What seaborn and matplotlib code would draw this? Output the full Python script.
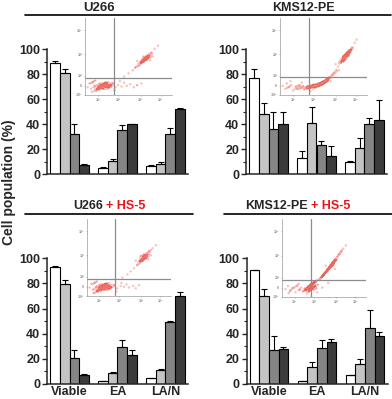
# Cell population bar charts with flow cytometry insets
import numpy as np
import pandas as pd
import matplotlib
matplotlib.use("Agg")
import matplotlib.pyplot as plt
from matplotlib.lines import Line2D
import seaborn as sns

sns.set_style("ticks")
plt.rcParams["font.family"] = ["Liberation Sans", "DejaVu Sans"]
plt.rcParams["font.weight"] = "bold"

# ---- data ----
groups = ["Viable", "EA", "LA/N"]
treatments = ["c1", "c2", "c3", "c4"]
bar_colors = ["#ffffff", "#c4c4c4", "#858585", "#3c3c3c"]

# rows = groups, cols = treatments
u266_mean = [[88.6, 81.0, 32.0, 7.7], [5.3, 10.4, 35.4, 40.0], [6.6, 8.0, 32.0, 52.0]]
u266_err = [[1.8, 2.8, 8.0, 0.6], [0.5, 1.5, 4.0, 0.5], [1.0, 1.5, 4.7, 1.0]]
kms_mean = [[77.0, 48.4, 36.4, 40.0], [12.8, 40.7, 23.1, 14.6], [9.6, 20.7, 40.2, 43.4]]
kms_err = [[7.0, 8.6, 13.6, 10.0], [6.1, 12.8, 3.8, 8.0], [1.0, 8.6, 4.5, 15.6]]
u266_hs5_mean = [[93.3, 79.7, 21.0, 7.4], [2.4, 9.0, 29.7, 23.0], [4.5, 11.4, 49.0, 69.8]]
u266_hs5_err = [[0.3, 2.8, 6.0, 0.8], [0.3, 0.4, 5.3, 4.0], [0.4, 0.4, 1.0, 3.2]]
kms_hs5_mean = [[90.7, 70.3, 27.0, 27.8], [2.0, 13.8, 28.4, 33.7], [6.9, 16.2, 44.6, 37.9]]
kms_hs5_err = [[0.2, 5.0, 11.5, 1.9], [0.3, 3.7, 6.6, 1.8], [0.3, 3.7, 14.3, 3.7]]

# flow cytometry dots, in fractions of the inset box (x, y)
u266_dots = [(0.15, 0.12), (0.18, 0.10), (0.20, 0.13), (0.22, 0.11), (0.24, 0.14), (0.26, 0.10),
             (0.21, 0.08), (0.17, 0.15), (0.25, 0.12), (0.28, 0.13), (0.19, 0.12), (0.23, 0.16),
             (0.27, 0.09), (0.16, 0.09), (0.30, 0.11), (0.22, 0.13), (0.03, 0.10), (0.05, 0.15),
             (0.07, 0.08), (0.09, 0.17), (0.11, 0.12), (0.13, 0.06), (0.32, 0.15), (0.35, 0.10),
             (0.38, 0.13), (0.42, 0.11), (0.45, 0.16), (0.48, 0.12), (0.52, 0.14), (0.56, 0.10),
             (0.60, 0.13), (0.65, 0.15), (0.12, 0.19), (0.34, 0.06), (0.40, 0.18), (0.08, 0.04),
             (0.45, 0.24), (0.50, 0.28), (0.55, 0.32), (0.58, 0.36), (0.62, 0.38), (0.64, 0.42),
             (0.66, 0.43), (0.68, 0.45), (0.69, 0.46), (0.70, 0.47), (0.72, 0.49), (0.71, 0.50),
             (0.74, 0.52), (0.76, 0.55), (0.80, 0.60), (0.84, 0.64), (0.60, 0.44), (0.75, 0.45),
             (0.67, 0.50), (0.78, 0.50)]
kms_dots = [(0.03, 0.12), (0.06, 0.08), (0.08, 0.15), (0.10, 0.10), (0.13, 0.13), (0.15, 0.06),
            (0.18, 0.11), (0.20, 0.08), (0.22, 0.12), (0.24, 0.09), (0.26, 0.11), (0.28, 0.07),
            (0.30, 0.10), (0.32, 0.12), (0.34, 0.09), (0.36, 0.11), (0.38, 0.13), (0.40, 0.10),
            (0.42, 0.14), (0.44, 0.12), (0.46, 0.15), (0.48, 0.13), (0.50, 0.17), (0.52, 0.16),
            (0.54, 0.20), (0.57, 0.22), (0.60, 0.26), (0.62, 0.29), (0.65, 0.33), (0.67, 0.37),
            (0.70, 0.42), (0.72, 0.45), (0.73, 0.48), (0.75, 0.50), (0.76, 0.52), (0.77, 0.53),
            (0.78, 0.55), (0.80, 0.57), (0.79, 0.50), (0.74, 0.44), (0.82, 0.60), (0.83, 0.62),
            (0.86, 0.68), (0.88, 0.72), (0.12, 0.18), (0.25, 0.16), (0.35, 0.05), (0.58, 0.18),
            (0.68, 0.32), (0.64, 0.40)]
u266_hs5_dots = [(0.14, 0.12), (0.17, 0.10), (0.19, 0.13), (0.21, 0.11), (0.23, 0.14), (0.25, 0.10),
                 (0.20, 0.08), (0.16, 0.15), (0.24, 0.12), (0.27, 0.13), (0.18, 0.12), (0.22, 0.16),
                 (0.26, 0.09), (0.15, 0.08), (0.29, 0.11), (0.21, 0.13), (0.03, 0.11), (0.05, 0.16),
                 (0.07, 0.08), (0.09, 0.17), (0.11, 0.12), (0.12, 0.06), (0.33, 0.14), (0.36, 0.10),
                 (0.40, 0.13), (0.44, 0.12), (0.47, 0.15), (0.50, 0.11), (0.55, 0.13), (0.58, 0.10),
                 (0.62, 0.14), (0.12, 0.19), (0.35, 0.06), (0.41, 0.17), (0.08, 0.04),
                 (0.42, 0.24), (0.48, 0.28), (0.52, 0.32), (0.56, 0.36), (0.60, 0.40), (0.63, 0.44),
                 (0.65, 0.46), (0.66, 0.48), (0.68, 0.50), (0.69, 0.49), (0.70, 0.52), (0.67, 0.53),
                 (0.72, 0.55), (0.74, 0.58), (0.78, 0.62), (0.82, 0.66), (0.58, 0.46), (0.73, 0.48),
                 (0.64, 0.52), (0.76, 0.53)]
kms_hs5_dots = [(0.04, 0.10), (0.07, 0.14), (0.10, 0.08), (0.13, 0.12), (0.16, 0.06), (0.18, 0.14),
                (0.21, 0.09), (0.23, 0.12), (0.25, 0.07), (0.27, 0.11), (0.29, 0.09), (0.31, 0.12),
                (0.32, 0.08), (0.33, 0.14), (0.34, 0.10), (0.35, 0.16), (0.36, 0.12), (0.37, 0.18),
                (0.38, 0.09), (0.39, 0.14), (0.40, 0.20), (0.41, 0.11), (0.43, 0.16), (0.45, 0.22),
                (0.47, 0.25), (0.49, 0.28), (0.51, 0.30), (0.53, 0.33), (0.55, 0.36), (0.57, 0.38),
                (0.59, 0.40), (0.60, 0.42), (0.61, 0.44), (0.62, 0.46), (0.64, 0.48), (0.66, 0.52),
                (0.68, 0.55), (0.70, 0.58), (0.73, 0.62), (0.76, 0.66), (0.30, 0.04), (0.42, 0.06),
                (0.48, 0.12), (0.55, 0.18), (0.20, 0.17), (0.08, 0.05), (0.63, 0.36), (0.52, 0.40)]

inset_xticks = [0.15, 0.38, 0.64, 0.87]
inset_xlabels = ["10¹", "10²", "10³", "10⁴"]
inset_yticks = [0.0, 0.12, 0.25, 0.53, 0.84]
inset_ylabels = ["-10¹", "0", "10²", "10³", "10⁴"]

W, H = 392, 399
fig = plt.figure(figsize=(W / 100, H / 100), dpi=100)


def px_rect(x0, y0, x1, y1):
    return [x0 / W, 1 - y1 / H, (x1 - x0) / W, (y1 - y0) / H]


def bar_panel(rect, means, errs, show_xlabels):
    ax = fig.add_axes(rect)
    rows = []
    for gi, g in enumerate(groups):
        for ti, t in enumerate(treatments):
            rows.append({"group": g, "treat": t, "value": means[gi][ti]})
    df = pd.DataFrame(rows)
    sns.barplot(data=df, x="group", y="value", hue="treat", order=groups,
                hue_order=treatments, palette=bar_colors, saturation=1,
                edgecolor="black", linewidth=0.8, width=0.8, legend=False,
                errorbar=None, ax=ax)
    bar_sets = list(ax.containers)
    for ti, cont in enumerate(bar_sets):
        xs = [b.get_x() + b.get_width() / 2 for b in cont.patches]
        ys = [means[gi][ti] for gi in range(len(groups))]
        up = [errs[gi][ti] for gi in range(len(groups))]
        ax.errorbar(xs, ys, yerr=[np.zeros(len(up)), up], fmt="none",
                    ecolor="black", elinewidth=0.8, capsize=2, capthick=0.8, zorder=3)
    ax.set_xlim(-0.47, 2.47)
    ax.set_ylim(0, 100)
    ax.set_yticks([0, 20, 40, 60, 80, 100])
    ax.set_yticks([10, 30, 50, 70, 90], minor=True)
    ax.set_xlabel("")
    ax.set_ylabel("")
    sns.despine(ax=ax)
    for s in ["left", "bottom"]:
        ax.spines[s].set_linewidth(1.1)
    ax.tick_params(axis="y", labelsize=9, length=3.5, width=1.0, pad=1.5)
    ax.tick_params(axis="y", which="minor", length=2, width=0.8)
    ax.tick_params(axis="x", length=0, labelsize=9, pad=1.5)
    for lab in ax.get_yticklabels() + ax.get_xticklabels():
        lab.set_fontweight("bold")
    if not show_xlabels:
        ax.set_xticklabels([])
    ax.patch.set_alpha(0)
    return ax


def flow_inset(rect, dots, vline, hline):
    ax = fig.add_axes(rect)
    ax.patch.set_alpha(0)
    pts = pd.DataFrame(dots, columns=["x", "y"])
    # dense cores
    sns.kdeplot(data=pts, x="x", y="y", fill=True, color="#e8301e", alpha=0.6,
                levels=3, thresh=0.6, bw_adjust=0.35, linewidths=0, ax=ax)
    sns.scatterplot(data=pts, x="x", y="y", color="#f0503c", s=3, alpha=0.35,
                    edgecolor="none", ax=ax)
    ax.axvline(vline, color="#8c8c8c", lw=0.9)
    ax.axhline(hline, color="#8c8c8c", lw=0.9)
    ax.set_xlim(0, 1)
    ax.set_ylim(0, 1)
    ax.set_xlabel("")
    ax.set_ylabel("")
    sns.despine(ax=ax)
    for s in ["left", "bottom"]:
        ax.spines[s].set_linewidth(0.5)
        ax.spines[s].set_color("#9a9a9a")
    ax.set_xticks(inset_xticks)
    ax.set_xticklabels(inset_xlabels)
    ax.set_yticks(inset_yticks)
    ax.set_yticklabels(inset_ylabels)
    ax.tick_params(labelsize=2.5, length=1, width=0.4, pad=1, colors="#8a8a8a")
    return ax


bar_panel(px_rect(47, 49, 188, 174.3), u266_mean, u266_err, False)
bar_panel(px_rect(246, 49, 387, 174.3), kms_mean, kms_err, False)
bar_panel(px_rect(47, 258.3, 188, 384), u266_hs5_mean, u266_hs5_err, True)
bar_panel(px_rect(246.5, 258.3, 387.5, 384), kms_hs5_mean, kms_hs5_err, True)

flow_inset(px_rect(85, 18, 172, 95), u266_dots, 0.33, 0.22)
flow_inset(px_rect(280, 18, 367, 95), kms_dots, 0.33, 0.23)
flow_inset(px_rect(87, 219, 171, 296), u266_hs5_dots, 0.33, 0.22)
flow_inset(px_rect(282, 219, 366, 297), kms_hs5_dots, 0.35, 0.22)

# panel titles and rules
fig.text(99 / W, 1 - 8 / H, "U266", ha="center", va="center", fontsize=9.5, fontweight="bold")
fig.text(303 / W, 1 - 8 / H, "KMS12-PE", ha="center", va="center", fontsize=9, fontweight="bold")
fig.text(103 / W, 1 - 206 / H, "U266", ha="right", va="center", fontsize=9, fontweight="bold")
fig.text(106 / W, 1 - 206 / H, "+ HS-5", ha="left", va="center", fontsize=9,
         fontweight="bold", color="#e8141c")
fig.text(308 / W, 1 - 206 / H, "KMS12-PE", ha="right", va="center", fontsize=9, fontweight="bold")
fig.text(311 / W, 1 - 206 / H, "+ HS-5", ha="left", va="center", fontsize=9,
         fontweight="bold", color="#e8141c")

for x0, x1, y in [(25, 391, 15), (25, 193, 214), (224, 392, 214)]:
    fig.add_artist(Line2D([x0 / W, x1 / W], [1 - y / H, 1 - y / H], color="black", lw=1.2))

fig.text(9 / W, 1 - 182 / H, "Cell population (%)", rotation=90, ha="center", va="center",
         fontsize=10, fontweight="bold")

fig.savefig("out.png", dpi=100)
